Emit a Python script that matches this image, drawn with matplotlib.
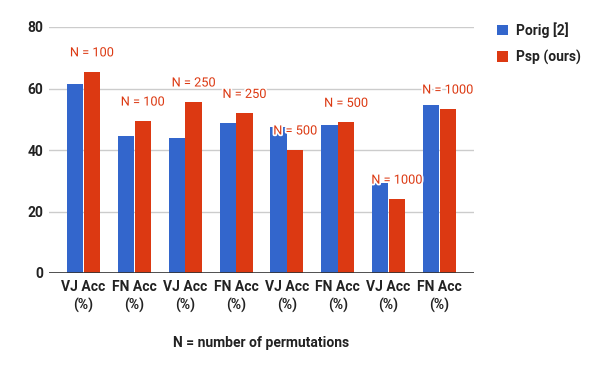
import matplotlib
matplotlib.use("Agg")
import matplotlib.pyplot as plt
import matplotlib.patheffects as pe
import numpy as np

categories = ["VJ Acc\n(%)", "FN Acc\n(%)", "VJ Acc\n(%)", "FN Acc\n(%)",
              "VJ Acc\n(%)", "FN Acc\n(%)", "VJ Acc\n(%)", "FN Acc\n(%)"]
porig = [61.4, 44.6, 43.9, 48.8, 47.5, 48.1, 29.2, 54.5]
psp = [65.4, 49.4, 55.6, 51.9, 40.0, 49.0, 24.0, 53.3]
annotations = ["N = 100", "N = 100", "N = 250", "N = 250",
               "N = 500", "N = 500", "N = 1000", "N = 1000"]
series_names = ["Porig [2]", "Psp (ours)"]
yticks = [0, 20, 40, 60, 80]

BLUE = "#3366cc"
RED = "#dc3912"
plt.rcParams['font.family'] = ['Roboto', 'DejaVu Sans']

fig = plt.figure(figsize=(6, 3.71), dpi=100)
ax = fig.add_axes([49/600, 1-273/371, (474-49)/600, (273-27)/371])

x = np.arange(len(categories))
w = 0.32
b1 = ax.bar(x - 0.165, porig, w, color=BLUE, zorder=2, label=series_names[0])
b2 = ax.bar(x + 0.165, psp, w, color=RED, zorder=2, label=series_names[1])

for xi, v, t in zip(x, psp, annotations):
    ax.annotate(t, (xi + 0.165, v), xytext=(0, 13.7), textcoords="offset points",
                ha="center", va="center", color=RED, fontsize=9.2, zorder=5,
                path_effects=[pe.withStroke(linewidth=2.5, foreground="white")])

ax.set_xlim(-0.68, 7.68)
ax.set_ylim(0, 80)
ax.set_yticks(yticks)
ax.set_yticklabels([str(t) for t in yticks], fontsize=10, fontweight="bold", color="#222222")
ax.set_xticks(x)
ax.set_xticklabels(categories, fontsize=10, fontweight="bold", color="#222222", linespacing=1.35)
ax.tick_params(axis="both", length=0)
ax.tick_params(axis="y", pad=4.3)
ax.tick_params(axis="x", pad=5)
for s in ax.spines.values():
    s.set_visible(False)
ax.grid(axis="y", color="#cccccc", linewidth=1, zorder=0)
ax.axhline(0, color="#333333", linewidth=1.2, zorder=3)
ax.set_axisbelow(True)

fig.text((49+474)/2/600, 1-343/371, "N = number of permutations", ha="center", va="center",
         fontsize=10, fontweight="bold", color="#222222")

leg = ax.legend(handles=[b1, b2], loc="upper left", bbox_to_anchor=(493/600, 1-18/371),
                bbox_transform=fig.transFigure, frameon=False, fontsize=10,
                handlelength=0.8, handleheight=0.8, handletextpad=0.55, labelspacing=0.85,
                borderaxespad=0, borderpad=0.3)
for t in leg.get_texts():
    t.set_fontweight("bold")
    t.set_color("#222222")

fig.savefig("out.png", dpi=100)
